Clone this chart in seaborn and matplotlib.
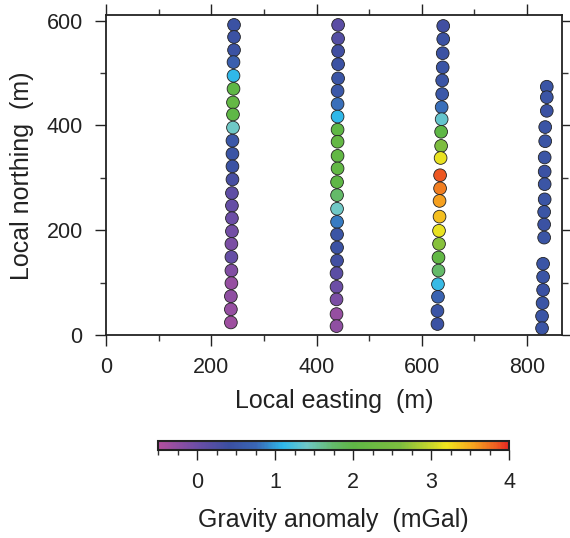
import numpy as np
import pandas as pd
import matplotlib
matplotlib.use("Agg")
import matplotlib.pyplot as plt
from matplotlib.colors import LinearSegmentedColormap, Normalize
from matplotlib.cm import ScalarMappable
from matplotlib.ticker import MultipleLocator
import seaborn as sns

# ---- data ----
line1_x = [243, 243, 243, 242, 242, 242, 241, 241, 241, 240, 240, 240,
           240, 239, 239, 239, 239, 238, 238, 238, 238, 237, 237, 237]
line1_y = [592, 569, 544, 521, 495, 470, 444, 421, 396, 371, 346, 322,
           297, 271, 247, 223, 198, 174, 149, 123, 99, 74, 49, 24]
line1_g = [0.45, 0.45, 0.45, 0.65, 1.1, 2.0, 2.1, 2.0, 1.4, 0.55, 0.5, 0.45,
           0.3, 0.1, 0.05, 0.0, -0.05, -0.1, 0.05, -0.15, -0.3, -0.25, -0.3, -0.35]

line2_x = [441, 441, 441, 441, 441, 440, 440, 440, 440, 440, 440, 440,
           439, 439, 439, 439, 439, 439, 439, 438, 438, 438, 438, 438]
line2_y = [592, 566, 542, 517, 490, 466, 441, 417, 392, 369, 342, 318,
           292, 267, 241, 216, 192, 167, 142, 118, 92, 68, 40, 17]
line2_g = [0.15, 0.2, 0.35, 0.45, 0.5, 0.55, 0.8, 1.1, 2.0, 2.1, 2.05, 2.05,
           2.0, 1.75, 1.4, 0.85, 0.5, 0.45, 0.35, 0.15, 0.0, -0.1, -0.3, -0.25]

line3_x = [641, 641, 640, 640, 639, 639, 638, 638, 637, 637, 636, 635,
           635, 634, 634, 633, 633, 632, 632, 631, 631, 630, 630]
line3_y = [590, 565, 538, 511, 486, 460, 435, 412, 388, 361, 338, 305,
           280, 256, 226, 199, 174, 148, 123, 97, 73, 46, 21]
line3_g = [0.35, 0.45, 0.45, 0.5, 0.5, 0.55, 0.8, 1.35, 2.0, 2.6, 3.15, 3.85,
           3.7, 3.55, 3.4, 3.15, 2.65, 2.05, 1.75, 1.15, 0.7, 0.5, 0.45]

line4_x = [838, 838, 838, 835, 835, 834, 834, 834, 834, 833, 833, 833,
           831, 831, 831, 830, 829, 829]
line4_y = [474, 454, 428, 397, 370, 339, 312, 288, 259, 235, 211, 186,
           136, 111, 86, 61, 36, 13]
line4_g = [0.5, 0.5, 0.45, 0.5, 0.5, 0.5, 0.45, 0.5, 0.5, 0.5, 0.45, 0.5,
           0.5, 0.5, 0.45, 0.5, 0.5, 0.5]

cbar_ticks = [0, 1, 2, 3, 4]
g_min, g_max = -0.5, 4.0

df = pd.DataFrame({
    "easting": line1_x + line2_x + line3_x + line4_x,
    "northing": line1_y + line2_y + line3_y + line4_y,
    "gravity": line1_g + line2_g + line3_g + line4_g,
})

# ---- colormap ----
anchors = [(-0.5, "#b24f9e"), (0.0, "#6b4ea6"), (0.4, "#3b4fa0"),
           (0.75, "#3a66b4"), (1.1, "#2fb8ea"), (1.4, "#6fc8c8"),
           (1.75, "#64ba6a"), (2.0, "#5fb746"), (2.6, "#7cbd3f"),
           (3.0, "#c8d62c"), (3.2, "#f3e61e"), (3.55, "#f5a21f"),
           (3.85, "#ed5a22"), (4.0, "#e52522")]
cmap = LinearSegmentedColormap.from_list(
    "grav", [((v - g_min) / (g_max - g_min), c) for v, c in anchors])
norm = Normalize(g_min, g_max)

sns.set_theme(style="ticks")
plt.rcParams["font.family"] = ["Liberation Sans", "DejaVu Sans"]

fig = plt.figure(figsize=(5.7, 5.38), dpi=100)
ax = fig.add_axes([0.1865, 0.3773, 0.7995, 0.5939])

sns.scatterplot(data=df, x="easting", y="northing", hue="gravity",
                palette=cmap, hue_norm=norm, legend=False, s=84,
                edgecolor="#222222", linewidth=0.6, ax=ax, zorder=3)

ax.set_xlim(0, 867)
ax.set_ylim(0, 610)
ax.xaxis.set_major_locator(MultipleLocator(200))
ax.xaxis.set_minor_locator(MultipleLocator(100))
ax.yaxis.set_major_locator(MultipleLocator(200))
ax.yaxis.set_minor_locator(MultipleLocator(100))
for sp in ax.spines.values():
    sp.set_visible(True)
    sp.set_linewidth(1.3)
    sp.set_color("#222222")
ax.tick_params(which="both", direction="out", top=True, right=True,
               color="#333333", width=1.0)
ax.tick_params(which="major", length=8, labelsize=15.5, colors="#222222")
ax.tick_params(which="minor", length=4.2)
ax.tick_params(axis="x", which="major", pad=8)
ax.tick_params(axis="y", which="major", pad=9)
ax.set_xlabel("Local easting  (m)", fontsize=18, labelpad=8, color="#222222")
ax.set_ylabel("Local northing  (m)", fontsize=18, labelpad=9, color="#222222")

# ---- colorbar ----
cax = fig.add_axes([0.2777, 0.1636, 0.6158, 0.0167])
cb = fig.colorbar(ScalarMappable(norm=norm, cmap=cmap), cax=cax,
                  orientation="horizontal")
cb.set_ticks(cbar_ticks)
cb.ax.xaxis.set_minor_locator(MultipleLocator(0.25))
cb.outline.set_linewidth(1.5)
cb.outline.set_edgecolor("#222222")
cax.tick_params(which="both", direction="out", color="#333333", width=1.0)
cax.tick_params(which="major", length=7, labelsize=15.5, pad=9, colors="#222222")
cax.tick_params(which="minor", length=3.5)
cb.set_label("Gravity anomaly  (mGal)", fontsize=18, labelpad=11, color="#222222")

fig.savefig("out.png", dpi=100)
